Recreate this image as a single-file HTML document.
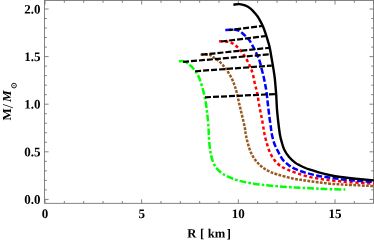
<!DOCTYPE html>
<html><head><meta charset="utf-8"><style>
html,body{margin:0;padding:0;background:#fff;}
body{width:374px;height:240px;position:relative;overflow:hidden;font-family:"Liberation Serif",serif;}
</style></head><body>
<svg width="374" height="240" viewBox="0 0 374 240" style="position:absolute;left:0;top:0;will-change:transform"><rect x="44.6" y="0.5" width="328.90" height="202.80" fill="none" stroke="#666" stroke-width="0.8"/>
<path d="M45.00 203.3 v-4 M45.00 0.5 v4 M64.33 203.3 v-2.3 M64.33 0.5 v2.3 M83.67 203.3 v-2.3 M83.67 0.5 v2.3 M103.00 203.3 v-2.3 M103.00 0.5 v2.3 M122.33 203.3 v-2.3 M122.33 0.5 v2.3 M141.66 203.3 v-4 M141.66 0.5 v4 M161.00 203.3 v-2.3 M161.00 0.5 v2.3 M180.33 203.3 v-2.3 M180.33 0.5 v2.3 M199.66 203.3 v-2.3 M199.66 0.5 v2.3 M219.00 203.3 v-2.3 M219.00 0.5 v2.3 M238.33 203.3 v-4 M238.33 0.5 v4 M257.66 203.3 v-2.3 M257.66 0.5 v2.3 M277.00 203.3 v-2.3 M277.00 0.5 v2.3 M296.33 203.3 v-2.3 M296.33 0.5 v2.3 M315.66 203.3 v-2.3 M315.66 0.5 v2.3 M335.00 203.3 v-4 M335.00 0.5 v4 M354.33 203.3 v-2.3 M354.33 0.5 v2.3 M373.66 203.3 v-2.3 M373.66 0.5 v2.3 M44.6 199.40 h4 M373.5 199.40 h-4 M44.6 189.88 h2.3 M373.5 189.88 h-2.3 M44.6 180.36 h2.3 M373.5 180.36 h-2.3 M44.6 170.84 h2.3 M373.5 170.84 h-2.3 M44.6 161.32 h2.3 M373.5 161.32 h-2.3 M44.6 151.80 h4 M373.5 151.80 h-4 M44.6 142.28 h2.3 M373.5 142.28 h-2.3 M44.6 132.76 h2.3 M373.5 132.76 h-2.3 M44.6 123.24 h2.3 M373.5 123.24 h-2.3 M44.6 113.72 h2.3 M373.5 113.72 h-2.3 M44.6 104.20 h4 M373.5 104.20 h-4 M44.6 94.68 h2.3 M373.5 94.68 h-2.3 M44.6 85.16 h2.3 M373.5 85.16 h-2.3 M44.6 75.64 h2.3 M373.5 75.64 h-2.3 M44.6 66.12 h2.3 M373.5 66.12 h-2.3 M44.6 56.60 h4 M373.5 56.60 h-4 M44.6 47.08 h2.3 M373.5 47.08 h-2.3 M44.6 37.56 h2.3 M373.5 37.56 h-2.3 M44.6 28.04 h2.3 M373.5 28.04 h-2.3 M44.6 18.52 h2.3 M373.5 18.52 h-2.3 M44.6 9.00 h4 M373.5 9.00 h-4" fill="none" stroke="#666" stroke-width="0.8"/>
<path d="M179.00 61.20 C179.92 61.22 183.00 60.90 184.50 61.30 C186.00 61.70 186.77 62.68 188.00 63.60 C189.23 64.52 190.75 65.63 191.90 66.80 C193.05 67.97 194.00 69.40 194.90 70.60 C195.80 71.80 196.45 72.43 197.30 74.00 C198.15 75.57 198.97 77.03 200.00 80.00 C201.03 82.97 202.52 87.88 203.50 91.80 C204.48 95.72 205.25 99.58 205.90 103.50 C206.55 107.42 206.97 111.38 207.40 115.30 C207.83 119.22 208.27 123.72 208.50 127.00 C208.73 130.28 208.60 131.70 208.80 135.00 C209.00 138.30 209.30 143.37 209.70 146.80 C210.10 150.23 210.47 152.67 211.20 155.60 C211.93 158.53 212.63 161.70 214.10 164.40 C215.57 167.10 217.78 169.82 220.00 171.80 C222.22 173.78 224.22 174.82 227.40 176.30 C230.58 177.78 234.70 179.47 239.10 180.70 C243.50 181.93 248.40 182.85 253.80 183.70 C259.20 184.55 264.62 185.17 271.50 185.80 C278.38 186.43 288.65 187.10 295.10 187.50 C301.55 187.90 305.18 187.95 310.20 188.20 C315.22 188.45 319.35 188.78 325.20 189.00 C331.05 189.22 341.95 189.42 345.30 189.50" fill="none" stroke="#00ff00" stroke-width="2.5" stroke-dasharray="6.8 2.2 2.6 2" stroke-dashoffset="2.1"/>
<path d="M200.60 54.50 C202.07 54.57 207.08 54.32 209.40 54.90 C211.72 55.48 212.87 56.92 214.50 58.00 C216.13 59.08 217.78 60.18 219.20 61.40 C220.62 62.62 221.75 63.88 223.00 65.30 C224.25 66.72 225.27 67.75 226.70 69.90 C228.13 72.05 230.32 75.68 231.60 78.20 C232.88 80.72 233.58 82.73 234.40 85.00 C235.22 87.27 235.70 88.72 236.50 91.80 C237.30 94.88 238.28 99.58 239.20 103.50 C240.12 107.42 241.08 111.38 242.00 115.30 C242.92 119.22 244.05 123.72 244.70 127.00 C245.35 130.28 245.35 132.20 245.90 135.00 C246.45 137.80 247.17 140.87 248.00 143.80 C248.83 146.73 249.68 149.90 250.90 152.60 C252.12 155.30 253.58 157.73 255.30 160.00 C257.02 162.27 259.00 164.37 261.20 166.20 C263.40 168.03 265.80 169.63 268.50 171.00 C271.20 172.37 273.38 173.15 277.40 174.40 C281.42 175.65 287.98 177.50 292.60 178.50 C297.22 179.50 300.92 179.77 305.10 180.40 C309.28 181.03 313.50 181.75 317.70 182.30 C321.90 182.85 325.70 183.30 330.30 183.70 C334.90 184.10 338.02 184.30 345.30 184.70 C352.58 185.10 369.22 185.87 374.00 186.10" fill="none" stroke="#99591e" stroke-width="2.5" stroke-dasharray="2.8 1.4"/>
<path d="M219.10 41.30 C220.77 41.42 226.35 41.28 229.10 42.00 C231.85 42.72 233.48 43.93 235.60 45.60 C237.72 47.27 239.95 49.65 241.80 52.00 C243.65 54.35 245.27 57.17 246.70 59.70 C248.13 62.23 249.35 64.70 250.40 67.20 C251.45 69.70 252.22 71.73 253.00 74.70 C253.78 77.67 254.43 82.15 255.10 85.00 C255.77 87.85 256.28 88.22 257.00 91.80 C257.72 95.38 258.60 102.10 259.40 106.50 C260.20 110.90 261.07 114.28 261.80 118.20 C262.53 122.12 263.32 127.20 263.80 130.00 C264.28 132.80 264.17 132.70 264.70 135.00 C265.23 137.30 266.12 140.87 267.00 143.80 C267.88 146.73 268.77 149.90 270.00 152.60 C271.23 155.30 272.68 157.80 274.40 160.00 C276.12 162.20 278.10 164.18 280.30 165.80 C282.50 167.42 284.72 168.42 287.60 169.70 C290.48 170.98 293.83 172.27 297.60 173.50 C301.37 174.73 306.02 176.15 310.20 177.10 C314.38 178.05 318.52 178.58 322.70 179.20 C326.88 179.82 330.68 180.30 335.30 180.80 C339.92 181.30 343.95 181.73 350.40 182.20 C356.85 182.67 370.07 183.37 374.00 183.60" fill="none" stroke="#ff0000" stroke-width="2.5" stroke-dasharray="3.3 2.5"/>
<path d="M225.30 30.00 C226.72 29.93 231.45 29.43 233.80 29.60 C236.15 29.77 237.70 30.15 239.40 31.00 C241.10 31.85 242.43 33.30 244.00 34.70 C245.57 36.10 247.38 37.58 248.80 39.40 C250.22 41.22 251.25 43.32 252.50 45.60 C253.75 47.88 255.13 50.60 256.30 53.10 C257.47 55.60 258.57 57.78 259.50 60.60 C260.43 63.42 261.18 67.18 261.90 70.00 C262.62 72.82 263.23 75.00 263.80 77.50 C264.37 80.00 264.85 82.62 265.30 85.00 C265.75 87.38 266.08 88.72 266.50 91.80 C266.92 94.88 267.35 99.58 267.80 103.50 C268.25 107.42 268.70 111.38 269.20 115.30 C269.70 119.22 270.33 123.72 270.80 127.00 C271.27 130.28 271.40 132.20 272.00 135.00 C272.60 137.80 273.42 141.10 274.40 143.80 C275.38 146.50 276.53 148.58 277.90 151.20 C279.27 153.82 280.73 157.13 282.60 159.50 C284.47 161.87 287.03 163.83 289.10 165.40 C291.17 166.97 292.33 167.70 295.00 168.90 C297.67 170.10 301.32 171.47 305.10 172.60 C308.88 173.73 313.50 174.85 317.70 175.70 C321.90 176.55 326.12 177.08 330.30 177.70 C334.48 178.32 338.62 178.92 342.80 179.40 C346.98 179.88 350.20 180.17 355.40 180.60 C360.60 181.03 370.90 181.77 374.00 182.00" fill="none" stroke="#0000ff" stroke-width="2.5" stroke-dasharray="6 2.3"/>
<path d="M233.40 4.70 C234.40 4.61 237.47 4.03 239.40 4.15 C241.33 4.27 243.13 4.66 245.00 5.40 C246.87 6.14 248.88 7.23 250.60 8.60 C252.32 9.97 253.88 11.90 255.30 13.60 C256.72 15.30 257.83 16.68 259.10 18.80 C260.37 20.92 261.80 23.80 262.90 26.30 C264.00 28.80 264.85 31.30 265.70 33.80 C266.55 36.30 267.33 39.02 268.00 41.30 C268.67 43.58 269.08 44.58 269.70 47.50 C270.32 50.42 271.10 55.37 271.70 58.80 C272.30 62.23 272.80 64.98 273.30 68.10 C273.80 71.22 274.35 74.68 274.70 77.50 C275.05 80.32 275.15 82.13 275.40 85.00 C275.65 87.87 275.93 90.63 276.20 94.70 C276.47 98.77 276.62 104.52 277.00 109.40 C277.38 114.28 278.00 119.73 278.50 124.00 C279.00 128.27 279.45 131.93 280.00 135.00 C280.55 138.07 281.08 139.95 281.80 142.40 C282.52 144.85 283.08 147.27 284.30 149.70 C285.52 152.13 287.25 154.80 289.10 157.00 C290.95 159.20 293.58 161.48 295.40 162.90 C297.22 164.32 298.23 164.61 300.00 165.50 C301.77 166.39 304.33 167.57 306.00 168.25 C307.67 168.93 308.05 168.96 310.00 169.60 C311.95 170.24 314.32 171.17 317.70 172.10 C321.08 173.03 326.12 174.35 330.30 175.20 C334.48 176.05 338.62 176.62 342.80 177.20 C346.98 177.78 350.20 178.17 355.40 178.70 C360.60 179.23 370.90 180.12 374.00 180.40" fill="none" stroke="#000" stroke-width="2.4"/>
<path d="M229.2 30.07 L262.3 26.0" fill="none" stroke="#000" stroke-width="2.2" stroke-dasharray="6 2" stroke-dashoffset="2.0"/>
<path d="M221.2 41.5 L265.8 36.0" fill="none" stroke="#000" stroke-width="2.2" stroke-dasharray="6 2"/>
<path d="M201.5 54.7 L269.4 47.8" fill="none" stroke="#000" stroke-width="2.2" stroke-dasharray="6 2"/>
<path d="M183.0 61.9 L270.4 54.2" fill="none" stroke="#000" stroke-width="2.2" stroke-dasharray="6 2"/>
<path d="M195.1 71.25 L271.8 65.6" fill="none" stroke="#000" stroke-width="2.2" stroke-dasharray="6 2"/>
<path d="M205 97.3 L277 94.0" fill="none" stroke="#000" stroke-width="2.2" stroke-dasharray="6 2"/>
<g font-family="Liberation Serif, serif" font-weight="bold" font-size="13" fill="#000">
<text transform="translate(45.00 217.9) rotate(0.05)" text-anchor="middle">0</text><text transform="translate(141.66 217.9) rotate(0.05)" text-anchor="middle">5</text><text transform="translate(238.33 217.9) rotate(0.05)" text-anchor="middle">10</text><text transform="translate(335.00 217.9) rotate(0.05)" text-anchor="middle">15</text><text transform="translate(40.4 203.80) rotate(0.05)" text-anchor="end">0.0</text><text transform="translate(40.4 156.20) rotate(0.05)" text-anchor="end">0.5</text><text transform="translate(40.4 108.60) rotate(0.05)" text-anchor="end">1.0</text><text transform="translate(40.4 61.00) rotate(0.05)" text-anchor="end">1.5</text><text transform="translate(40.4 13.40) rotate(0.05)" text-anchor="end">2.0</text><text transform="translate(187.3 237.6) rotate(0.05)" font-size="12.6" xml:space="preserve">R <tspan dx="0.4">[</tspan> <tspan dx="0.5">km</tspan> <tspan dx="-1.8">]</tspan></text>
<g transform="translate(11.4 120.5) rotate(-90)"><text x="0" y="0" xml:space="preserve">M<tspan font-size="15" font-weight="normal" dx="0.1" dy="1.6">/</tspan><tspan x="18.5" dy="-1.6" font-style="italic">M</tspan></text><circle cx="34.9" cy="2.6" r="2.35" fill="none" stroke="#000" stroke-width="0.9"/><circle cx="34.9" cy="2.6" r="0.7" fill="#000"/></g>
</g></svg>
</body></html>
